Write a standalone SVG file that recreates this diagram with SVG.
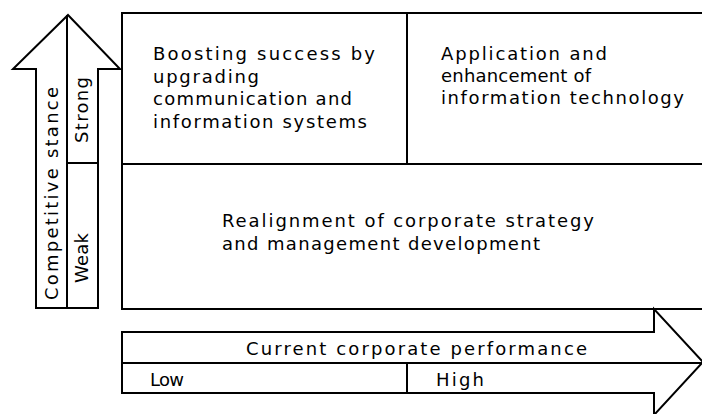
<svg xmlns="http://www.w3.org/2000/svg" width="702" height="414" viewBox="0 0 702 414">
<style>
.ln{fill:none;stroke:#000;stroke-width:2;stroke-linejoin:miter}
.sh{fill:#fff;stroke:#000;stroke-width:2;stroke-linejoin:miter}
text{font-family:"DejaVu Sans","Liberation Sans",Arial,sans-serif;font-size:18px;fill:#000}
</style>
<rect width="702" height="414" fill="#fff"/>
<g id="axis-competitive-stance">
<polygon class="sh" points="68,15 120,69 98,69 98,308 36,308 36,69 13,69"/>
<line class="ln" x1="67" y1="15" x2="67" y2="308"/>
<line class="ln" x1="67" y1="163" x2="98" y2="163"/>
<text transform="translate(58,300) rotate(-90)" textLength="213" lengthAdjust="spacing">Competitive stance</text>
<text transform="translate(88,143) rotate(-90)" textLength="66" lengthAdjust="spacing">Strong</text>
<text transform="translate(88,283) rotate(-90)" textLength="50" lengthAdjust="spacing">Weak</text>
</g>
<g id="node-boosting">
<path class="ln" d="M122,13 H407 V164 H122 Z"/>
<text x="153" y="60" textLength="222" lengthAdjust="spacing">Boosting success by</text>
<text x="153" y="83" textLength="106" lengthAdjust="spacing">upgrading</text>
<text x="153" y="105" textLength="199" lengthAdjust="spacing">communication and</text>
<text x="153" y="128" textLength="214" lengthAdjust="spacing">information systems</text>
</g>
<g id="node-application">
<path class="ln" d="M407,13 H702 M407,164 H702"/>
<text x="441" y="60" textLength="166" lengthAdjust="spacing">Application and</text>
<text x="441" y="82" textLength="150" lengthAdjust="spacing">enhancement of</text>
<text x="441" y="104" textLength="243" lengthAdjust="spacing">information technology</text>
</g>
<g id="node-realignment">
<path class="ln" d="M122,164 V309 H702"/>
<text x="222" y="227" textLength="372" lengthAdjust="spacing">Realignment of corporate strategy</text>
<text x="222" y="250" textLength="318" lengthAdjust="spacing">and management development</text>
</g>
<g id="axis-performance">
<polygon class="sh" points="122,332 654,332 654,309 703,362 654,415 654,393 122,393"/>
<line class="ln" x1="122" y1="363" x2="702" y2="363"/>
<line class="ln" x1="407" y1="363" x2="407" y2="393"/>
<text x="246" y="355" textLength="341" lengthAdjust="spacing">Current corporate performance</text>
<text x="150" y="386" textLength="34" lengthAdjust="spacing">Low</text>
<text x="436" y="386" textLength="48" lengthAdjust="spacing">High</text>
</g>
</svg>
